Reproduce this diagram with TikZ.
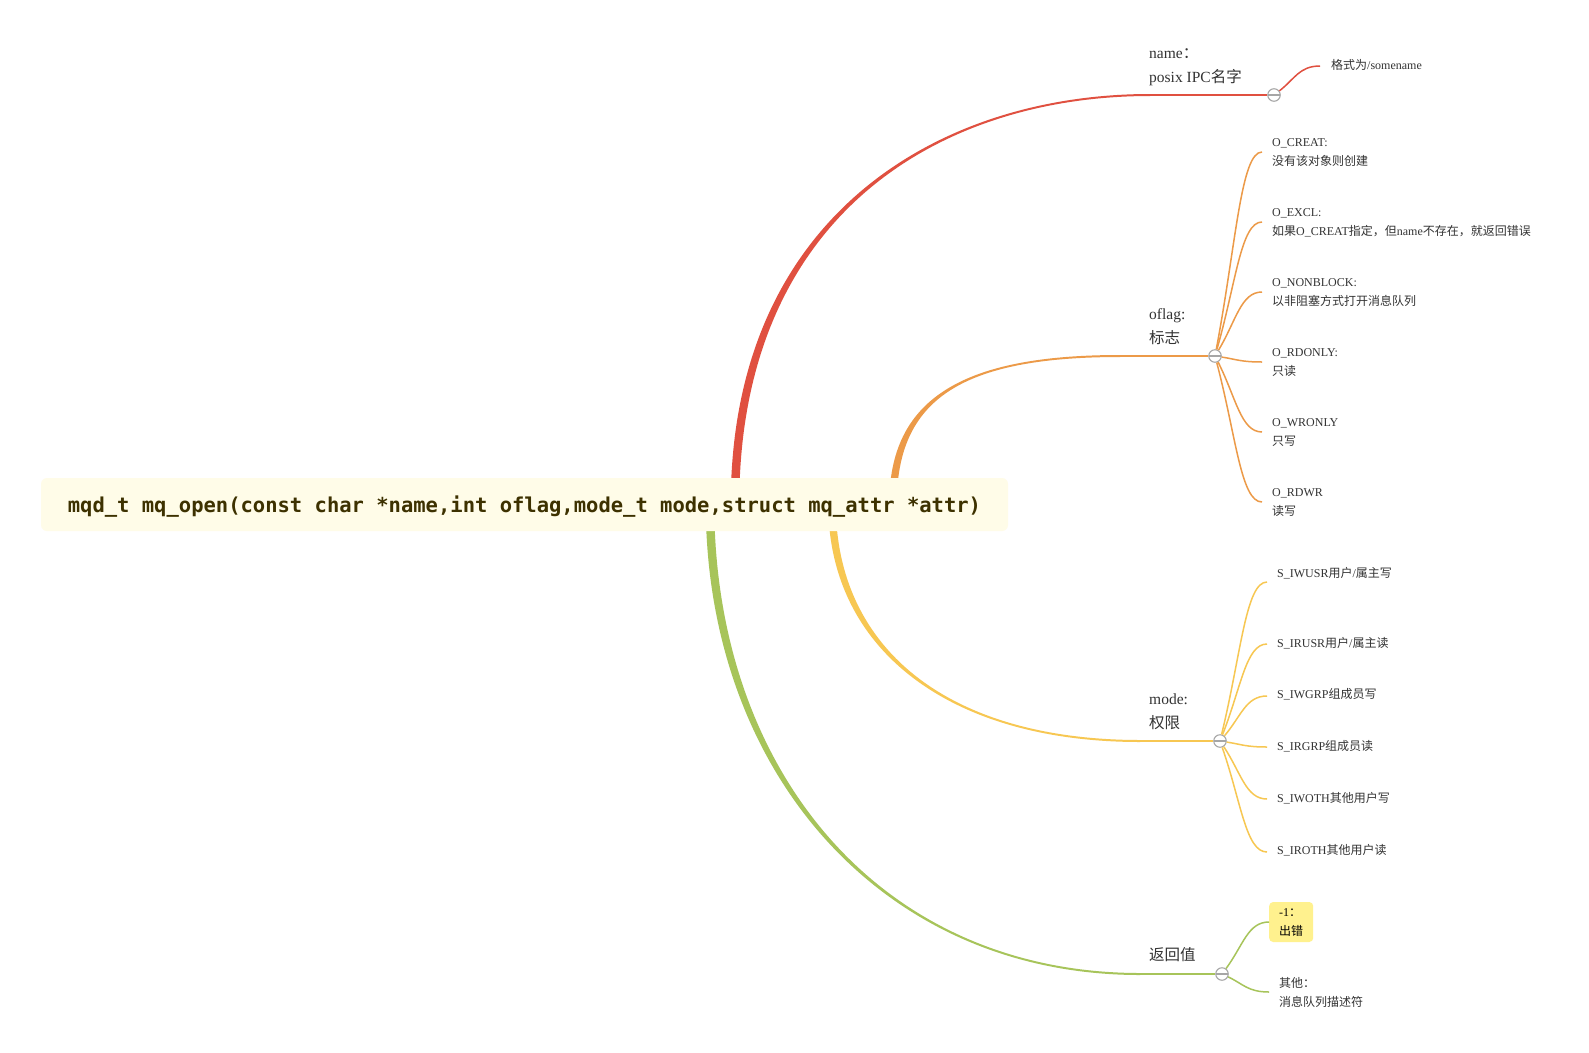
\documentclass[tikz,border=0pt]{standalone}
\usepackage{fontspec}
\setmainfont{Liberation Serif}
\newfontfamily\cjk{Noto Sans CJK SC}
\newfontfamily\rootfont{DejaVu Sans Mono}
\usetikzlibrary{calc}
\definecolor{cRed}{HTML}{E05040}
\definecolor{cOrange}{HTML}{EC9A48}
\definecolor{cYellow}{HTML}{F7C752}
\definecolor{cGreen}{HTML}{A7C45A}
\definecolor{knobgray}{HTML}{A6A6A6}
\definecolor{rootfill}{HTML}{FFFCE8}
\definecolor{roottext}{HTML}{3D3100}
\definecolor{txt}{HTML}{333333}
\definecolor{errfill}{HTML}{FFF18E}
\newcommand\two[2]{\begin{tabular}[t]{@{}l@{}}#1\\#2\end{tabular}}
% tapered main branch: color, x0, y0, c1y, c2x, x3, y3, w0, signed w1
\newcommand\taper[9]{\fill[#1] ({#2-#8/2},#3) .. controls ({#2-#8/2},#4) and (#5,{#7+#9/2}) .. (#6,{#7+#9/2}) -- (#6,{#7-#9/2}) .. controls (#5,{#7-#9/2}) and ({#2+#8/2},#4) .. ({#2+#8/2},#3) -- cycle;}
\newcommand\kid[3]{\draw[#1, line width=1.5pt] let \p1=(#2.center), \p2=(#3) in (#2) .. controls ({\x1+0.45*(\x2-\x1)},{\y1+0.55*(\y2-\y1)}) and ({\x1+0.55*(\x2-\x1)},\y2) .. (#3);}
\tikzset{
  mainlab/.style={anchor=base west, inner sep=0pt, text=txt, font=\fontsize{15.5}{24}\selectfont},
  kidlab/.style={anchor=base west, inner sep=0pt, text=txt, font=\fontsize{12}{19}\selectfont},
  knob/.style={circle, draw=knobgray, fill=white, line width=1.1pt, minimum size=12.5pt, inner sep=0pt,
    path picture={\draw[knobgray, line width=1.1pt] ([xshift=-7pt]path picture bounding box.center) -- ([xshift=7pt]path picture bounding box.center);}},
  rootbox/.style={fill=rootfill, rounded corners=6pt, minimum width=967pt, minimum height=53pt, inner sep=0pt,
    text=roottext, font=\rootfont\bfseries\fontsize{20.5}{24}\selectfont},
  errbox/.style={fill=errfill, rounded corners=4pt, minimum width=44pt, minimum height=40pt, inner xsep=10pt, inner ysep=0pt,
    text=black, font=\fontsize{12}{19}\selectfont, anchor=west},
  hline/.style={line width=2pt}
}
\begin{document}
\begin{tikzpicture}[x=1pt,y=-1pt]
\fill[white] (0,0) rectangle (1589,1052);
\useasboundingbox (0,0) rectangle (1589,1052);
% main branches
\taper{cRed}{735}{504}{215}{940}{1150}{95}{8.5}{-2}
\taper{cOrange}{893}{504}{400}{960}{1120}{356}{7.5}{-2}
\taper{cYellow}{832}{504}{650}{950}{1140}{741}{7.5}{2}
\taper{cGreen}{710}{504}{770}{880}{1140}{974}{8.5}{2}
% root
\node[rootbox] (root) at (524.5,504.5) {\raisebox{-8pt}[0pt][0pt]{mqd\_t mq\_open(const char *name,int oflag,mode\_t mode,struct mq\_attr *attr)}};
% main topics
\node[mainlab] (tName) at (1149,58) {\two{name{\cjk ：}}{posix IPC{\cjk 名字}}};
\node[mainlab] (tFlag) at (1149,319) {\two{oflag:}{{\cjk 标志}}};
\node[mainlab] (tMode) at (1149,704) {\two{mode:}{{\cjk 权限}}};
\node[mainlab] (tRet) at (1149,960) {{\cjk 返回值}};
\coordinate (eName) at (1148,95);
\coordinate (eFlag) at (1118,356);
\coordinate (eMode) at (1138,741);
\coordinate (eRet) at (1138,974);
\node[knob] (cName) at (1274,95) {};
\node[knob] (cFlag) at (1215,356) {};
\node[knob] (cMode) at (1220,741) {};
\node[knob] (cRet) at (1222,974) {};
\draw[hline, cRed] (eName) -- (cName);
\draw[hline, cOrange] (eFlag) -- (cFlag);
\draw[hline, cYellow] (eMode) -- (cMode);
\draw[hline, cGreen] (eRet) -- (cRet);
% name child
\coordinate (kSome) at (1320,66);
\node[kidlab] (tSome) at (1331,69) {{\cjk 格式为}/somename};
\kid{cRed}{cName}{kSome}
% oflag children
\coordinate (kCreat) at (1262,152);
\coordinate (kExcl) at (1262,222);
\coordinate (kNonb) at (1262,292);
\coordinate (kRdonly) at (1262,362);
\coordinate (kWronly) at (1262,432);
\coordinate (kRdwr) at (1262,502);
\node[kidlab] (tCreat) at (1272,146) {\two{O\_CREAT:}{{\cjk 没有该对象则创建}}};
\node[kidlab] (tExcl) at (1272,216) {\two{O\_EXCL:}{{\cjk 如果}O\_CREAT{\cjk 指定，但}name{\cjk 不存在，就返回错误}}};
\node[kidlab] (tNonb) at (1272,286) {\two{O\_NONBLOCK:}{{\cjk 以非阻塞方式打开消息队列}}};
\node[kidlab] (tRdonly) at (1272,356) {\two{O\_RDONLY:}{{\cjk 只读}}};
\node[kidlab] (tWronly) at (1272,426) {\two{O\_WRONLY}{{\cjk 只写}}};
\node[kidlab] (tRdwr) at (1272,496) {\two{O\_RDWR}{{\cjk 读写}}};
\kid{cOrange}{cFlag}{kCreat}
\kid{cOrange}{cFlag}{kExcl}
\kid{cOrange}{cFlag}{kNonb}
\kid{cOrange}{cFlag}{kRdonly}
\kid{cOrange}{cFlag}{kWronly}
\kid{cOrange}{cFlag}{kRdwr}
% mode children
\coordinate (kIwusr) at (1267,582);
\coordinate (kIrusr) at (1267,644);
\coordinate (kIwgrp) at (1267,696);
\coordinate (kIrgrp) at (1267,747);
\coordinate (kIwoth) at (1267,799);
\coordinate (kIroth) at (1267,852);
\node[kidlab] (tIwusr) at (1277,577) {S\_IWUSR{\cjk 用户}/{\cjk 属主写}};
\node[kidlab] (tIrusr) at (1277,647) {S\_IRUSR{\cjk 用户}/{\cjk 属主读}};
\node[kidlab] (tIwgrp) at (1277,698) {S\_IWGRP{\cjk 组成员写}};
\node[kidlab] (tIrgrp) at (1277,750) {S\_IRGRP{\cjk 组成员读}};
\node[kidlab] (tIwoth) at (1277,802) {S\_IWOTH{\cjk 其他用户写}};
\node[kidlab] (tIroth) at (1277,854) {S\_IROTH{\cjk 其他用户读}};
\kid{cYellow}{cMode}{kIwusr}
\kid{cYellow}{cMode}{kIrusr}
\kid{cYellow}{cMode}{kIwgrp}
\kid{cYellow}{cMode}{kIrgrp}
\kid{cYellow}{cMode}{kIwoth}
\kid{cYellow}{cMode}{kIroth}
% return value children
\coordinate (kErr) at (1269,922);
\coordinate (kOther) at (1269,992);
\node[errbox] (tErr) at (kErr) {\two{-1{\cjk ：}}{{\cjk 出错}}};
\node[kidlab] (tOther) at (1279,987) {\two{{\cjk 其他：}}{{\cjk 消息队列描述符}}};
\kid{cGreen}{cRet}{kErr}
\kid{cGreen}{cRet}{kOther}
\end{tikzpicture}
\end{document}
